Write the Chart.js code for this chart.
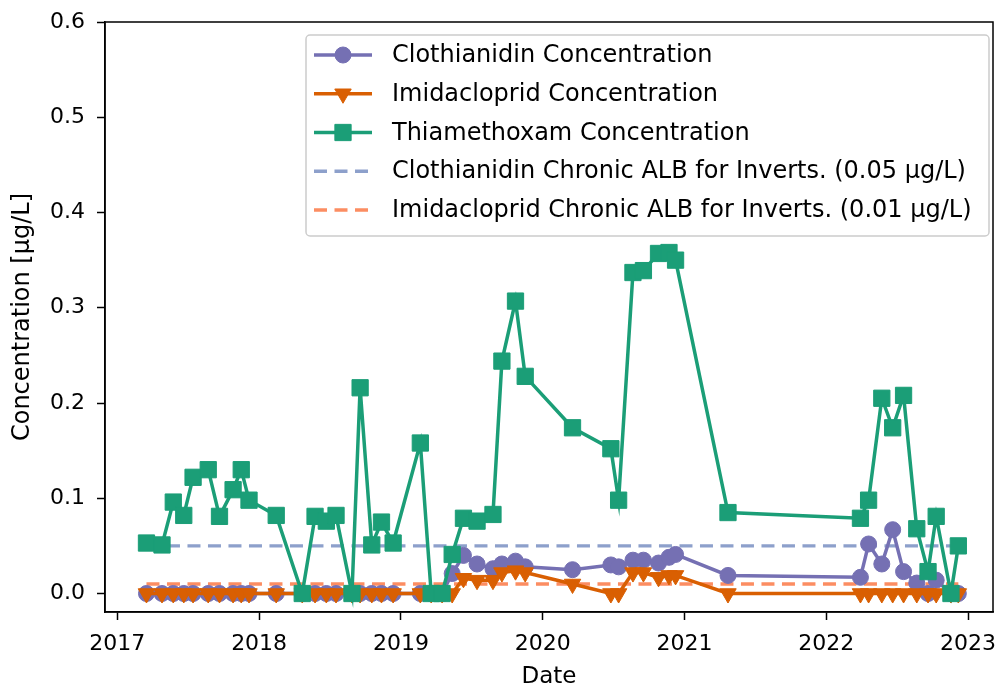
<!DOCTYPE html>
<html>
<head>
<meta charset="utf-8">
<script src="https://cdn.jsdelivr.net/npm/chart.js@4.4.0/dist/chart.umd.min.js"></script>
<style>
  html, body { margin: 0; padding: 0; background: #fff; }
</style>
</head>
<body>
<canvas id="chart" width="998" height="691"></canvas>
<script>
// sampling dates
const sampleDates = [
  '2017-03-17','2017-04-26','2017-05-25','2017-06-21','2017-07-15','2017-08-23','2017-09-21','2017-10-26','2017-11-16','2017-12-06',
  '2018-02-14','2018-04-22','2018-05-25','2018-06-23','2018-07-18','2018-08-28','2018-09-18','2018-10-18','2018-11-12','2018-12-12',
  '2019-02-20','2019-03-20','2019-04-17','2019-05-13','2019-06-11','2019-07-16','2019-08-26','2019-09-18','2019-10-23','2019-11-17',
  '2020-03-18','2020-06-25','2020-07-15','2020-08-21','2020-09-17','2020-10-26','2020-11-22','2020-12-09',
  '2021-04-23',
  '2022-03-30','2022-04-20','2022-05-24','2022-06-21','2022-07-19','2022-08-22','2022-09-20','2022-10-11','2022-11-18','2022-12-07'
];

// concentrations in ug/L
const clothianidin = [
  0, 0, 0, 0, 0, 0, 0, 0, 0, 0,
  0, 0, 0, 0, 0, 0, 0, 0, 0, 0,
  0, 0, 0, 0.021, 0.040, 0.031, 0.026, 0.031, 0.034, 0.028,
  0.025, 0.030, 0.028, 0.035, 0.035, 0.032, 0.038, 0.041,
  0.019,
  0.017, 0.052, 0.031, 0.067, 0.023, 0.011, 0, 0.014, 0, 0
];
const imidacloprid = [
  0, 0, 0, 0, 0, 0, 0, 0, 0, 0,
  0, 0, 0, 0, 0, 0, 0, 0, 0, 0,
  0, 0, 0, 0, 0.016, 0.014, 0.014, 0.022, 0.024, 0.022,
  0.010, 0, 0, 0.022, 0.022, 0.017, 0.019, 0.019,
  0,
  0, 0, 0, 0, 0, 0, 0, 0, 0, 0
];
const thiamethoxam = [
  0.053, 0.051, 0.096, 0.082, 0.122, 0.130, 0.081, 0.109, 0.130, 0.098,
  0.082, 0, 0.081, 0.076, 0.082, 0, 0.216, 0.051, 0.075, 0.053,
  0.158, 0, 0, 0.041, 0.079, 0.076, 0.083, 0.244, 0.307, 0.228,
  0.174, 0.152, 0.098, 0.337, 0.339, 0.357, 0.358, 0.350,
  0.085,
  0.079, 0.098, 0.205, 0.174, 0.208, 0.068, 0.023, 0.081, 0, 0.050
];

// chronic aquatic life benchmarks for invertebrates
const clothianidinAlb = 0.05;
const imidaclopridAlb = 0.01;

const yTicks = [0, 0.1, 0.2, 0.3, 0.4, 0.5, 0.6];
const xTickYears = [2017, 2018, 2019, 2020, 2021, 2022, 2023];

const labels = [
  'Clothianidin Concentration',
  'Imidacloprid Concentration',
  'Thiamethoxam Concentration',
  'Clothianidin Chronic ALB for Inverts. (0.05 \u00b5g/L)',
  'Imidacloprid Chronic ALB for Inverts. (0.01 \u00b5g/L)'
];

// date string -> decimal year
function toYear(s) {
  const d = Date.parse(s + 'T00:00:00Z');
  const y = Number(s.slice(0, 4));
  const a = Date.UTC(y, 0, 1), b = Date.UTC(y + 1, 0, 1);
  return y + (d - a) / (b - a);
}
const xs = sampleDates.map(toYear);
const pts = vals => vals.map((v, i) => ({x: xs[i], y: v}));
const firstX = xs[0], lastX = xs[xs.length - 1];

Chart.defaults.font.family = "'DejaVu Sans', sans-serif";
Chart.defaults.color = '#000';

// matplotlib style legend box inside the axes
const boxLegend = {
  id: 'boxLegend',
  afterDraw(chart) {
    const {ctx, chartArea} = chart;
    const left = chartArea.right - 687, top = chartArea.top + 13;
    const w = 683, h = 201;
    ctx.save();
    ctx.beginPath();
    ctx.roundRect(left, top, w, h, 4);
    ctx.fillStyle = 'rgba(255,255,255,0.8)';
    ctx.fill();
    ctx.strokeStyle = '#cccccc';
    ctx.lineWidth = 1.5;
    ctx.stroke();
    ctx.font = "24px 'DejaVu Sans'";
    ctx.textBaseline = 'middle';
    chart.data.datasets.forEach((ds, i) => {
      const y = top + 20 + i * 38.75;
      const x0 = left + 8, x1 = left + 66;
      ctx.save();
      ctx.strokeStyle = ds.borderColor;
      ctx.lineWidth = ds.borderWidth;
      ctx.setLineDash(ds.borderDash || []);
      ctx.beginPath();
      ctx.moveTo(x0, y);
      ctx.lineTo(x1, y);
      ctx.stroke();
      ctx.restore();
      if (ds.pointRadius > 0) {
        ctx.fillStyle = ds.backgroundColor;
        ctx.strokeStyle = ds.borderColor;
        ctx.lineWidth = 1;
        Chart.helpers.drawPoint(ctx, {
          pointStyle: ds.pointStyle, radius: ds.pointRadius,
          rotation: ds.pointRotation || 0, borderWidth: 1
        }, (x0 + x1) / 2, y);
      }
      ctx.fillStyle = '#000';
      ctx.fillText(ds.label, left + 86, y + 1);
    });
    ctx.restore();
  }
};

// top and right spines
const frame = {
  id: 'frame',
  afterDraw(chart) {
    const {ctx, chartArea: a} = chart;
    ctx.save();
    ctx.strokeStyle = '#000';
    ctx.lineWidth = 1.5;
    ctx.strokeRect(a.left, a.top, a.right - a.left, a.bottom - a.top);
    ctx.restore();
  }
};

new Chart(document.getElementById('chart'), {
  type: 'line',
  data: {
    datasets: [
      {
        label: labels[0], data: pts(clothianidin), order: 2,
        borderColor: '#7570b3', backgroundColor: '#7570b3', borderWidth: 3.5,
        pointStyle: 'circle', pointRadius: 8, pointBorderWidth: 1
      },
      {
        label: labels[1], data: pts(imidacloprid), order: 1,
        borderColor: '#d95f02', backgroundColor: '#d95f02', borderWidth: 3.5,
        pointStyle: 'triangle', pointRotation: 180, pointRadius: 9.5, pointBorderWidth: 1
      },
      {
        label: labels[2], data: pts(thiamethoxam), order: 0,
        borderColor: '#1b9e77', backgroundColor: '#1b9e77', borderWidth: 3.5,
        pointStyle: 'rect', pointRadius: 11.5, pointBorderWidth: 1
      },
      {
        label: labels[3], data: [{x: firstX, y: clothianidinAlb}, {x: lastX, y: clothianidinAlb}], order: 3,
        borderColor: '#8da0cb', backgroundColor: '#8da0cb', borderWidth: 3.3, borderDash: [13, 7.5],
        pointRadius: 0
      },
      {
        label: labels[4], data: [{x: firstX, y: imidaclopridAlb}, {x: lastX, y: imidaclopridAlb}], order: 4,
        borderColor: '#fc8d62', backgroundColor: '#fc8d62', borderWidth: 3.3, borderDash: [13, 7.5],
        pointRadius: 0
      }
    ]
  },
  options: {
    responsive: false,
    animation: false,
    layout: {autoPadding: false, padding: {top: 22, right: 5, left: 0, bottom: 0}},
    plugins: {
      legend: {display: false},
      tooltip: {enabled: false}
    },
    scales: {
      x: {
        type: 'linear',
        min: 2016.913,
        max: 2023.176,
        afterBuildTicks: s => { s.ticks = xTickYears.map(v => ({value: v})); },
        afterFit: s => { s.height = 79; s.paddingLeft = 0; s.paddingRight = 0; },
        ticks: {font: {size: 22}, padding: 11, maxRotation: 0, callback: v => String(v)},
        grid: {display: true, drawOnChartArea: false, drawTicks: true, tickLength: 8, tickWidth: 1.5, color: '#000'},
        border: {display: true, color: '#000', width: 1.5},
        title: {display: true, text: 'Date', font: {size: 23}, padding: {top: 0, bottom: 0}}
      },
      y: {
        min: -0.0194,
        max: 0.6,
        afterBuildTicks: s => { s.ticks = yTicks.map(v => ({value: v})); },
        afterFit: s => { s.width = 105; s.paddingTop = 0; s.paddingBottom = 0; },
        ticks: {font: {size: 22}, padding: 12, callback: v => v.toFixed(1)},
        grid: {display: true, drawOnChartArea: false, drawTicks: true, tickLength: 8, tickWidth: 1.5, color: '#000'},
        border: {display: true, color: '#000', width: 1.5},
        title: {display: true, text: 'Concentration [\u00b5g/L]', font: {size: 24}, padding: {top: 8, bottom: 0}}
      }
    }
  },
  plugins: [boxLegend, frame]
});
</script>
</body>
</html>
